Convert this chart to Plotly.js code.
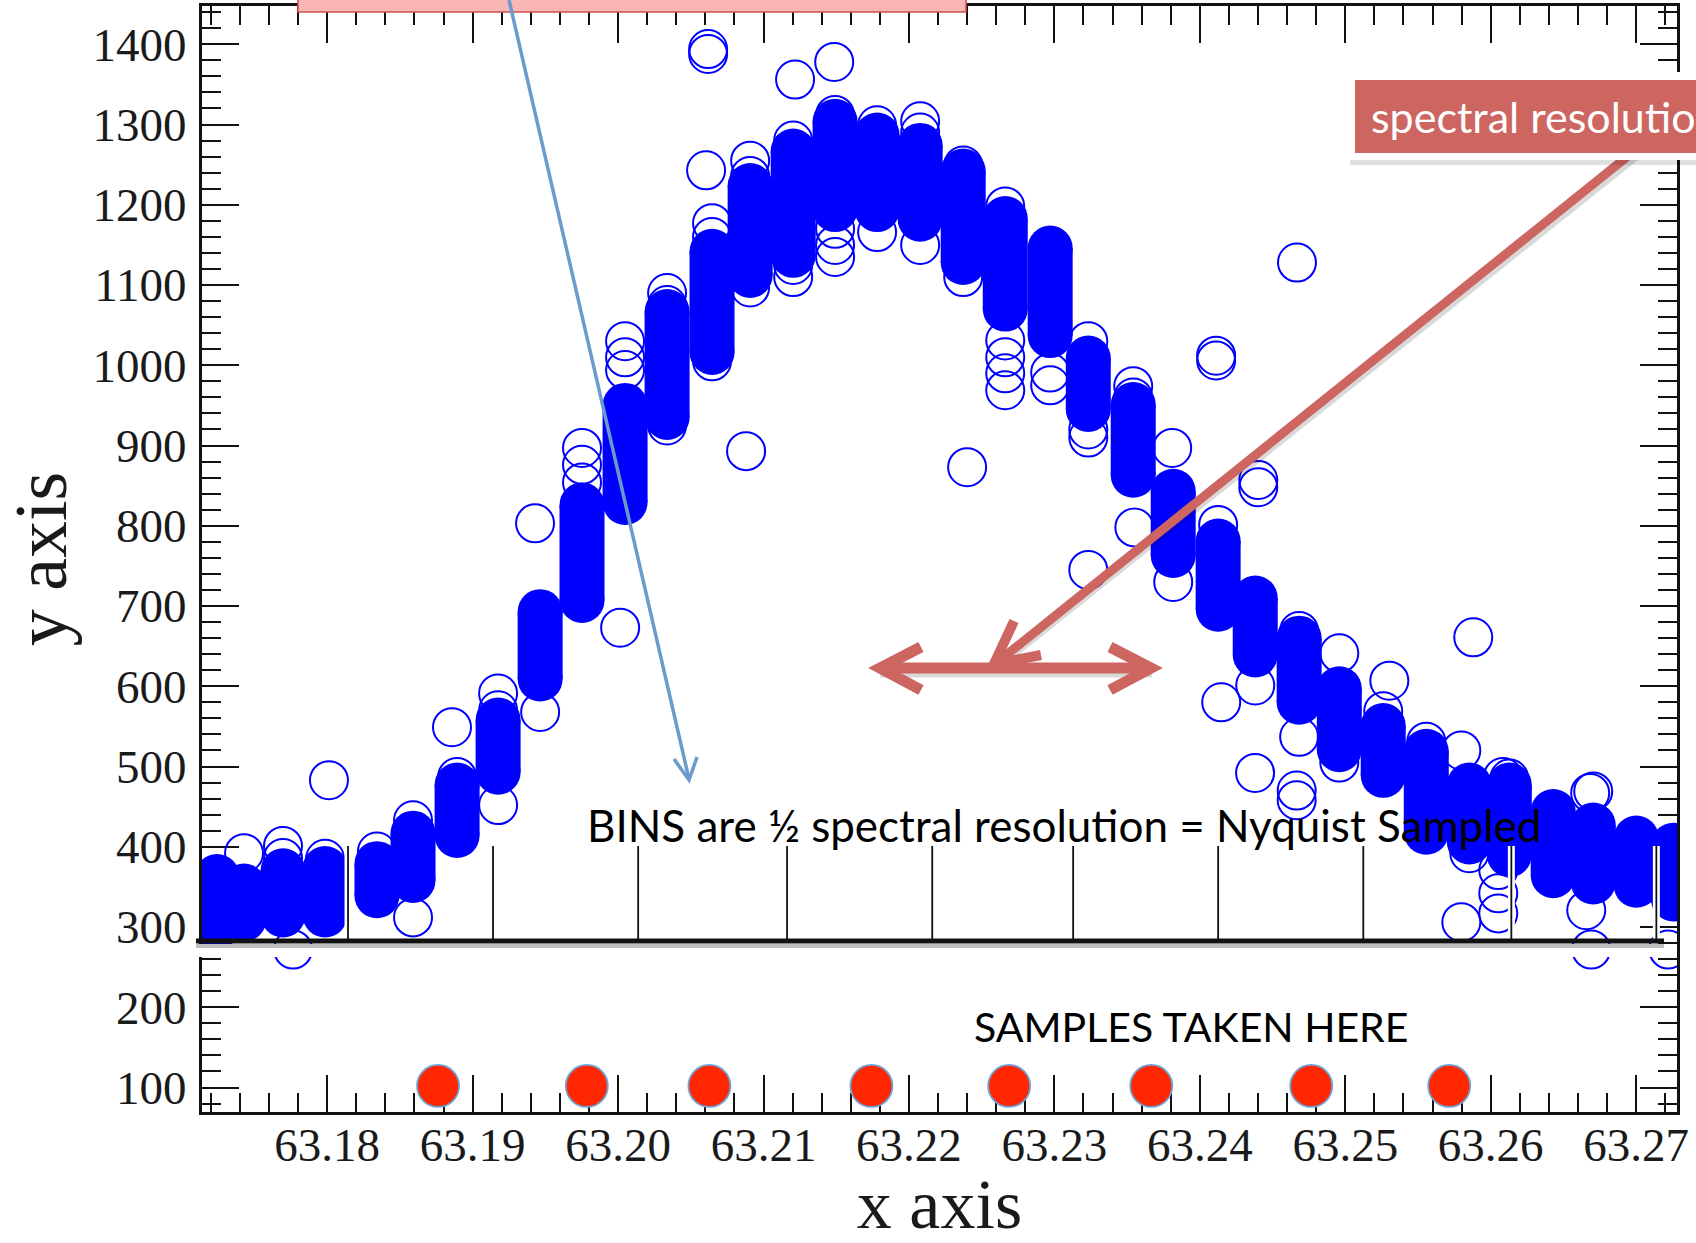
<!DOCTYPE html>
<html>
<head>
<meta charset="utf-8">
<script src="https://cdn.plot.ly/plotly-3.0.1.min.js"></script>
<style>html,body{margin:0;padding:0;background:#fff;}#chart{width:1696px;height:1243px;}</style>
</head>
<body>
<div id="chart"></div>
<script>
// ---------- DATA ----------
// Dense spectral columns: x position, lowest and highest sample value of each stack
const colX  = [63.17242,63.17428,63.17696,63.17985,63.18342,63.18590,63.18893,63.19175,63.19464,63.19752,
               63.20048,63.20337,63.20646,63.20908,63.21204,63.21492,63.21781,63.22077,63.22373,63.22662,
               63.22971,63.23233,63.23542,63.23817,63.24126,63.24381,63.24683,63.24959,63.25261,63.25557,
               63.25853,63.26128,63.26430,63.26705,63.27001,63.27256];
const colLo = [300,310,315,315,339,358,414,493,609,707,
               829,935,1016,1112,1137,1194,1194,1182,1128,1070,
               1037,945,863,763,696,639,580,521,489,418,
               406,390,364,356,352,335];
const colHi = [363,351,370,373,379,417,477,558,693,826,
               950,1067,1142,1224,1267,1304,1287,1274,1242,1183,
               1146,1009,951,843,781,710,660,597,551,519,
               477,477,444,427,411,402];

// Separately visible rings at the ends of the stacks
const ringX = [63.17428,63.17696,63.17696,63.17985,63.18342,63.18590,63.18590,63.18893,63.19175,63.19175,
               63.19175,63.19464,63.19752,63.19752,63.19752,63.20048,63.20048,63.20048,63.20337,63.20337,
               63.20337,63.20646,63.20646,63.20646,63.20908,63.20908,63.20908,63.21204,63.21204,63.21204,
               63.21492,63.21492,63.21492,63.21492,63.21781,63.21781,63.22077,63.22077,63.22077,63.22373,
               63.22373,63.22662,63.22662,63.22662,63.22662,63.22662,63.22971,63.22971,63.23233,63.23233,
               63.23233,63.23542,63.23542,63.23817,63.24126,63.24381,63.24683,63.24683,63.24959,63.24959,
               63.25261,63.25557,63.25853,63.26128,63.26705];
const ringY = [392,401,386,385,394,433,312,487,591,570,
               452,568,897,876,854,1030,1010,994,1090,1075,
               925,1177,1160,1005,1255,1236,1097,1280,1125,1110,
               1312,1170,1150,1135,1299,1166,1304,1290,1150,1249,
               1110,1198,1031,1010,990,969,991,975,1030,920,
               910,974,960,730,801,601,669,537,641,505,
               569,531,392,485,469];

// Isolated outlier samples
const outX = [63.20619,63.20619,63.21217,63.21486,63.20605,63.20880,63.22400,63.24668,63.24112,63.24112,
              63.23810,63.24402,63.24402,63.23550,63.23233,63.25880,63.25303,63.24147,63.24380,63.24666,
              63.24666,63.25798,63.26084,63.26684,63.25798,63.26052,63.26052,63.26052,63.26657,63.18012,
              63.18858,63.20014,63.19429,63.17765,63.26691,63.27221];
const outY = [1394,1388,1356,1378,1243,893,873,1128,1012,1006,
              897,857,848,798,745,661,607,580,492,470,
              458,520,487,467,306,371,342,317,321,483,
              549,673,803,272,272,272];

// Nyquist sample positions (red markers) and bin edges
const sampleX = [63.18762,63.19785,63.20628,63.21742,63.22689,63.23666,63.24766,63.25715];
const sampleY = [102,102,102,102,102,102,102,102];
const binEdges = [63.18143,63.19140,63.20138,63.21162,63.22160,63.23129,63.24126,63.25124,63.26142,63.27139];

// Ticks
const xTickVals = [63.18,63.19,63.20,63.21,63.22,63.23,63.24,63.25,63.26,63.27];
const xTickText = ['63.18','63.19','63.20','63.21','63.22','63.23','63.24','63.25','63.26','63.27'];
const yTickVals = [100,200,300,400,500,600,700,800,900,1000,1100,1200,1300,1400];

// Texts
const txtBins = 'BINS are \u00BD spectral resolution = Nyquist Sampled';
const txtSamples = 'SAMPLES TAKEN HERE';
const txtSpectral = 'spectral resolution';

// ---------- BUILD ----------
const BLUE = '#0000FF';
const coreX = [], coreY = [];
colX.forEach((x, i) => { coreX.push(x, x, null); coreY.push(colLo[i], colHi[i], null); });

const ringMarker = {symbol:'circle-open', size:38, color:BLUE, line:{width:2, color:BLUE}};
const traces = [
  { type:'scatter', mode:'lines+markers', x:coreX, y:coreY, connectgaps:false, hoverinfo:'skip',
    line:{color:BLUE, width:45},
    marker:{symbol:'circle', size:45, color:BLUE, line:{width:0}}, showlegend:false },
  { type:'scatter', mode:'markers', x:ringX, y:ringY, showlegend:false, marker:ringMarker },
  { type:'scatter', mode:'markers', x:outX, y:outY, showlegend:false, marker:ringMarker },
  { type:'scatter', mode:'markers', x:sampleX, y:sampleY, showlegend:false, cliponaxis:false,
    marker:{symbol:'circle', size:42, color:'#FF2600', line:{width:1.8, color:'#6FA3D8'}} }
];

// pixel -> paper helpers for the pasted-on drawing elements
const PL = 202, PR = 1677, PT = 6, PB = 1112;
const fx = p => (p - PL) / (PR - PL);
const fy = p => (PB - p) / (PB - PT);
const L = (x0,y0,x1,y1,color,width) => ({type:'line', xref:'paper', yref:'paper', layer:'above',
  x0:fx(x0), y0:fy(y0), x1:fx(x1), y1:fy(y1), line:{color:color, width:width}});
const R = (x0,y0,x1,y1,fill,lc,lw) => ({type:'rect', xref:'paper', yref:'paper', layer:'above',
  x0:fx(x0), y0:fy(y0), x1:fx(x1), y1:fy(y1), fillcolor:fill, line:{color:lc||fill, width:lw||0}});
const P = (pts,color,width) => ({type:'path', xref:'paper', yref:'paper', layer:'above',
  path: pts.map((p,i) => (i ? 'L' : 'M') + fx(p[0]) + ',' + fy(p[1])).join(' '),
  line:{color:color, width:width}});

const RED = '#CD6560';
const shapes = [];
// white gap under the pasted spectrum strip
shapes.push(R(188, 944, 1668, 957, '#FFFFFF'));
// bin edge lines
binEdges.forEach(b => {
  shapes.push({type:'line', xref:'x', yref:'paper', layer:'above', x0:b, x1:b, y0:fy(846), y1:fy(940), line:{color:'#FFFFFF', width:7}});
  shapes.push({type:'line', xref:'x', yref:'paper', layer:'above', x0:b, x1:b, y0:fy(846), y1:fy(940), line:{color:'#111111', width:1.8}});
});
// thick strip baseline with shadow
shapes.push(L(196, 946, 1664, 946, 'rgba(0,0,0,0.25)', 4));
shapes.push(L(196, 941, 1664, 941, '#111111', 5));
// pink box at top
shapes.push(R(298, -5, 966, 12, '#F9B6B4', '#C9534F', 1.5));
// blue pointer
shapes.push(L(509, 0, 689, 779, '#6A9BCB', 3.5));
shapes.push(P([[674,759],[689,780],[697,757]], '#6A9BCB', 3.5));
// red pointer from the label box, with shadow
shapes.push(L(1636, 156, 995, 668, 'rgba(0,0,0,0.15)', 9));
shapes.push(L(1633, 152, 995, 664, RED, 9));
shapes.push(P([[1014,621],[994,664],[1041,655]], RED, 10));
// double headed arrow with shadow
shapes.push(L(880, 672, 1152, 672, 'rgba(0,0,0,0.15)', 11));
shapes.push(L(880, 668, 1152, 668, RED, 11));
shapes.push(P([[921,647],[880,668],[921,690]], RED, 11));
shapes.push(P([[1110,647],[1151,668],[1110,690]], RED, 11));
// spectral resolution label box
shapes.push(R(1350, 77, 1720, 165, 'rgba(0,0,0,0.12)'));
shapes.push(R(1347, 72, 1720, 160, '#FFFFFF'));
shapes.push(R(1355, 80, 1720, 153, RED));

const SANS = 'Lato, "Open Sans", sans-serif';
const annotations = [
  {xref:'paper', yref:'paper', x:fx(585), y:fy(825), xanchor:'left', yanchor:'middle', showarrow:false,
   text:txtBins, font:{family:SANS, size:44, color:'#000'}},
  {xref:'paper', yref:'paper', x:fx(972), y:fy(1026), xanchor:'left', yanchor:'middle', showarrow:false,
   text:txtSamples, font:{family:SANS, size:41, color:'#000'}},
  {xref:'paper', yref:'paper', x:fx(1369), y:fy(116), xanchor:'left', yanchor:'middle', showarrow:false,
   text:txtSpectral, font:{family:SANS, size:43, color:'#FFFFFF'}}
];

const SERIF = '"Liberation Serif", "Times New Roman", serif';
const axisCommon = {
  showline:true, linewidth:3, linecolor:'#111', mirror:'allticks',
  ticks:'inside', ticklen:37, tickwidth:2, tickcolor:'#111',
  showgrid:false, zeroline:false, layer:'below traces',
  tickfont:{family:SERIF, size:47, color:'#1a1a1a'}
};

const layout = {
  width:1696, height:1243,
  margin:{l:PL, r:1696-PR, t:PT, b:1243-PB, pad:0},
  paper_bgcolor:'#FFFFFF', plot_bgcolor:'#FFFFFF',
  showlegend:false,
  xaxis: Object.assign({}, axisCommon, {
    range:[63.17139, 63.27281], tickmode:'array', tickvals:xTickVals, ticktext:xTickText,
    minor:{ticks:'inside', ticklen:19, tickwidth:2, tickcolor:'#111', dtick:0.002, tick0:63.18, showgrid:false},
    ticklabelstandoff:-10,
    title:{text:'x axis', font:{family:SERIF, size:70, color:'#1a1a1a'}, standoff:44}
  }),
  yaxis: Object.assign({}, axisCommon, {
    range:[69.5, 1447.7], tickmode:'array', tickvals:yTickVals,
    minor:{ticks:'inside', ticklen:19, tickwidth:2, tickcolor:'#111', dtick:20, tick0:100, showgrid:false},
    ticklabelstandoff:3,
    title:{text:'y axis', font:{family:SERIF, size:74, color:'#1a1a1a'}, standoff:40}
  }),
  shapes: shapes,
  annotations: annotations
};

Plotly.newPlot('chart', traces, layout, {staticPlot:true, displayModeBar:false});
</script>
</body>
</html>
